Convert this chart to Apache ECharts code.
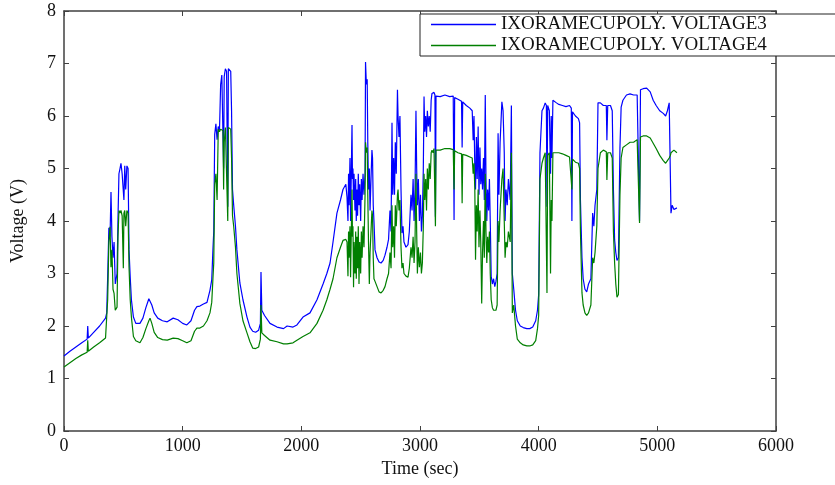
<!DOCTYPE html>
<html>
<head>
<meta charset="utf-8">
<script src="https://cdn.jsdelivr.net/npm/echarts@6/dist/echarts.min.js"></script>
<style>
    html, body { margin: 0; padding: 0; background: #fff; }
    #chart { width: 835px; height: 485px; }
</style>
</head>
<body>
<div id="chart"></div>
<script>
// time (sec)
const times = [
    0, 50, 100, 150, 195, 200, 205, 250, 300, 350,
    360, 368, 378, 388, 396, 404, 413, 422, 432, 447, 455, 463, 472, 480, 490, 500, 505, 512, 520, 530, 540, 548, 558, 568, 585, 605, 620,
    640, 665, 690, 715, 725, 740, 760, 790, 830, 870, 920, 960, 1000, 1035, 1070, 1100, 1120, 1145, 1175, 1205, 1230, 1245, 1255,
    1262, 1270, 1280, 1290, 1300, 1310, 1320, 1330, 1340, 1345, 1350, 1360, 1370, 1380, 1385, 1395, 1405, 1412, 1420, 1430, 1445,
    1457, 1482, 1508, 1542, 1567, 1590, 1615, 1640, 1655, 1660, 1667, 1690, 1736, 1795, 1850, 1880, 1930, 1963, 2014, 2073, 2132, 2183, 2215, 2242, 2267, 2300, 2330, 2351, 2375,
    2385, 2393, 2398, 2402, 2410, 2415, 2419, 2427, 2431, 2435,
    2440, 2444, 2452, 2458, 2463, 2469, 2474, 2480, 2486, 2492,
    2500, 2506, 2512, 2520, 2528, 2537, 2541, 2548, 2555, 2560,
    2566, 2573, 2579, 2587, 2595, 2600, 2606, 2612, 2621, 2638,
    2655, 2672, 2690, 2705, 2722, 2735, 2747, 2756, 2764, 2770,
    2778, 2785, 2792, 2800, 2810, 2815, 2823, 2831, 2840, 2848,
    2857, 2865, 2882, 2899, 2910, 2924, 2933, 2942, 2950, 2958,
    2966, 2972, 2978, 2986, 2995, 3004, 3012, 3020, 3028, 3034,
    3040, 3048, 3055, 3062, 3070, 3078, 3086, 3094, 3101, 3110,
    3118, 3126, 3130, 3135, 3150,
    3170, 3210, 3250, 3280, 3287, 3292, 3320, 3350, 3355, 3360,
    3390, 3420, 3440, 3448, 3455, 3462, 3468, 3475, 3482, 3490,
    3497, 3505, 3512, 3520, 3527, 3535, 3542, 3550, 3556, 3563,
    3570, 3578, 3585, 3592, 3600, 3610, 3620, 3630, 3640, 3650,
    3658, 3665, 3675, 3690, 3700, 3710, 3717, 3725, 3735, 3745,
    3760, 3770, 3778, 3790, 3805, 3820, 3845, 3870, 3900, 3925,
    3950, 3975, 3990, 4000, 4011, 4028,
    4040, 4055, 4065, 4070, 4076, 4090, 4100, 4106, 4112, 4120,
    4135, 4150, 4170, 4200, 4230, 4260, 4275, 4280, 4285, 4310,
    4335, 4345, 4352, 4365, 4375, 4390, 4405, 4420, 4440, 4455,
    4465, 4475, 4490, 4500, 4520, 4545, 4570, 4575, 4582, 4605,
    4620, 4630, 4640, 4650, 4660, 4672, 4685, 4695, 4710, 4740,
    4770, 4800, 4830, 4850, 4858, 4880, 4910, 4940, 4965, 4990,
    5020, 5050, 5070, 5085, 5100, 5110, 5115, 5125, 5140, 5165
]

// IXORAMECUPOLY. VOLTAGE3
const volt3 = [
    1.43, 1.52, 1.6, 1.68, 1.75, 2.0, 1.77, 1.88, 2.0, 2.15,
    2.25, 2.93, 3.87, 3.7, 4.55, 3.7, 3.3, 3.6, 2.8, 3.0, 4.05, 4.9, 5.0, 5.1, 4.9, 4.9, 4.4, 5.05, 4.6, 5.05, 5.0, 3.45, 2.93, 2.5, 2.17, 2.05, 2.02,
    2.05, 2.15, 2.35, 2.52, 2.55, 2.4, 2.25, 2.15, 2.1, 2.08, 2.15, 2.12, 2.05, 2.02, 2.1, 2.3, 2.37, 2.38, 2.42, 2.45, 2.68, 2.88, 3.45,
    3.8, 5.65, 5.85, 5.55, 5.8, 5.7, 6.6, 6.78, 6.8, 5.0, 6.75, 6.9, 6.85, 4.27, 6.9, 6.92, 6.85, 6.1, 4.6, 4.3, 3.9,
    3.45, 2.82, 2.5, 2.17, 1.98, 1.9, 1.88, 1.92, 2.05, 3.03, 2.3, 2.2, 2.05, 1.98, 1.95, 2.0, 1.98, 2.02, 2.17, 2.25, 2.5, 2.8, 3.0, 3.2, 3.6, 4.15, 4.4, 4.6, 4.7,
    4.45, 4.0, 4.9, 4.3, 5.2, 4.0, 4.6, 5.83, 4.8, 5.0,
    4.4, 4.9, 4.2, 4.8, 4.0, 4.6, 4.1, 4.9, 4.3, 4.7,
    4.0, 4.8, 4.4, 4.9, 4.5, 4.9, 7.03, 6.6, 6.7, 5.5,
    4.6, 5.0, 4.2, 4.8, 5.35, 5.2, 4.3, 4.0, 3.45, 3.3,
    3.22, 3.2, 3.25, 3.35, 3.5, 3.65, 4.2, 3.8, 5.87, 4.5,
    5.2, 4.5, 5.5, 4.9, 6.5, 6.0, 5.6, 6.0, 4.6, 3.77,
    3.9, 3.6, 3.5, 3.55, 3.8, 4.5, 4.2, 4.8, 4.0, 4.6,
    6.1, 5.0, 4.3, 4.8, 4.0, 4.5, 3.8, 4.1, 5.0, 6.37,
    5.7, 6.0, 5.6, 6.1, 5.8, 6.0, 5.7, 6.3, 6.43, 6.4,
    6.45, 6.4, 4.08, 6.38, 6.35,
    6.37, 6.4, 6.37, 6.38, 4.02, 6.35, 6.32, 6.28, 5.4, 6.27,
    6.2, 6.15, 6.1, 5.54, 6.0, 5.0, 4.6, 5.6, 4.8, 5.8,
    4.5, 5.4, 4.7, 5.0, 4.6, 5.2, 4.4, 6.4, 4.8, 4.0,
    4.6, 4.2, 4.8, 4.0, 2.95, 2.8, 2.9, 2.75, 2.85, 3.0,
    5.67, 4.5, 5.5, 6.27, 6.1, 5.3, 4.0, 4.6, 4.3, 4.8,
    4.4, 6.2, 3.0, 2.7, 2.3, 2.1, 2.0, 1.97, 1.95, 1.95,
    1.98, 2.1, 2.3, 2.6, 5.3, 6.1,
    6.15, 6.25, 6.2, 4.27, 6.2, 6.1, 4.9, 6.0, 5.2, 6.3,
    6.28, 6.25, 6.22, 6.2, 6.18, 6.2, 6.15, 4.0, 6.08, 6.0,
    5.95, 5.87, 4.4, 3.3, 2.9, 2.7, 2.65, 2.8, 2.9, 4.15,
    3.9, 4.3, 4.6, 6.25, 6.25, 6.2, 6.2, 5.54, 6.2, 6.2,
    6.1, 4.6, 3.64, 3.4, 3.25, 3.3, 5.4, 6.17, 6.3, 6.4,
    6.42, 6.4, 6.4, 4.0, 6.5, 6.52, 6.53, 6.46, 6.3, 6.2,
    6.1, 6.05, 6.0, 6.1, 6.25, 6.22, 4.15, 4.3, 4.22, 4.25
]

// IXORAMECUPOLY. VOLTAGE4
const volt4 = [
    1.22, 1.3, 1.38, 1.45, 1.5, 1.73, 1.52, 1.6, 1.68, 1.77,
    1.8, 2.5, 3.6, 3.89, 3.12, 3.45, 2.7, 2.62, 2.3, 2.36, 3.7, 4.2, 4.15, 4.2, 4.1, 3.1, 4.15, 4.2, 3.9, 4.2, 4.15, 3.12, 2.5, 2.17, 1.8, 1.72, 1.7,
    1.68, 1.78, 1.95, 2.1, 2.15, 2.05, 1.88, 1.78, 1.74, 1.73, 1.77, 1.76, 1.72, 1.68, 1.72, 1.9, 1.96, 1.96, 2.0, 2.1, 2.25, 2.45, 2.9,
    3.2, 4.7, 4.9, 4.4, 5.75, 5.7, 5.75, 5.75, 5.72, 4.6, 5.5, 5.78, 5.78, 4.0, 5.78, 5.78, 5.75, 5.2, 4.1, 3.9, 3.5,
    3.0, 2.43, 2.1, 1.87, 1.7, 1.58, 1.57, 1.6, 1.75, 2.4, 1.87, 1.82, 1.73, 1.7, 1.66, 1.66, 1.68, 1.73, 1.8, 1.87, 2.05, 2.3, 2.5, 2.7, 2.9, 3.3, 3.5, 3.63, 3.65,
    3.6, 2.95, 3.8, 3.3, 3.9, 2.93, 3.5, 4.6, 3.7, 3.9,
    2.74, 3.6, 3.0, 3.8, 2.9, 3.7, 3.1, 3.9, 2.8, 3.6,
    3.0, 3.8, 3.3, 3.9, 3.5, 4.5, 5.5, 5.3, 5.4, 4.5,
    3.6, 2.8, 3.4, 3.8, 4.2, 4.1, 3.3, 2.9, 2.85, 2.75,
    2.65, 2.63, 2.68, 2.75, 2.9, 3.0, 3.4, 3.1, 4.3, 3.5,
    3.9, 3.3, 4.3, 3.9, 4.5, 4.6, 4.2, 4.4, 3.5, 3.1,
    3.2, 3.0, 2.95, 2.93, 3.1, 3.5, 3.3, 3.7, 3.2, 3.6,
    4.9, 3.8, 3.0, 3.5, 3.12, 3.4, 3.0, 3.2, 3.9, 4.9,
    4.4, 4.8, 4.2, 5.0, 4.6, 5.1, 4.8, 5.3, 5.35, 5.3,
    5.38, 5.35, 3.9, 5.35, 5.36,
    5.35, 5.38, 5.38, 5.36, 4.6, 5.34, 5.3, 5.28, 4.34, 5.27,
    5.25, 5.22, 5.2, 4.9, 5.1, 4.6, 3.26, 4.3, 3.8, 4.6,
    3.5, 4.2, 3.6, 2.43, 3.4, 4.0, 3.3, 4.9, 3.8, 3.2,
    3.7, 3.4, 3.8, 3.0, 2.5, 2.35, 2.3, 2.28, 2.3, 2.4,
    4.0, 3.6, 4.2, 4.8, 5.0, 4.0, 3.3, 3.6, 3.5, 3.8,
    3.6, 5.3, 2.25, 2.4, 2.0, 1.75, 1.68, 1.64, 1.62, 1.62,
    1.64, 1.72, 1.95, 2.2, 4.8, 5.1,
    5.2, 5.3, 5.28, 2.63, 5.25, 5.3, 3.0, 4.4, 4.0, 5.3,
    5.32, 5.3, 5.3, 5.28, 5.25, 5.22, 5.2, 4.6, 5.18, 5.12,
    5.1, 5.0, 3.8, 2.63, 2.4, 2.25, 2.2, 2.25, 2.4, 3.3,
    3.2, 3.4, 3.9, 5.0, 5.3, 5.35, 5.32, 4.78, 5.3, 5.3,
    5.2, 3.8, 3.2, 2.8, 2.55, 2.6, 4.5, 5.2, 5.4, 5.45,
    5.5, 5.5, 5.55, 3.96, 5.6, 5.62, 5.62, 5.58, 5.48, 5.38,
    5.25, 5.15, 5.1, 5.15, 5.2, 5.25, 5.3, 5.3, 5.35, 5.3
]

const seriesNames = ['IXORAMECUPOLY. VOLTAGE3', 'IXORAMECUPOLY. VOLTAGE4']

const serif = '"Liberation Serif", "DejaVu Serif", serif'
const frameColor = '#404040'

// 坐标轴公共样式（四边框线，刻度朝内）
const frameAxis = {
    axisLine: {show: true, onZero: false, lineStyle: {color: frameColor, width: 1.5}},
    axisTick: {show: true, inside: true, length: 5, lineStyle: {color: frameColor, width: 1}},
    splitLine: {show: false},
}

let option = {
    animation: false,
    backgroundColor: '#fff',
    grid: {
        left: 64,
        right: 59,
        top: 11,
        bottom: 54,
        containLabel: false
    },
    legend: {
        orient: 'vertical',
        left: 420,
        top: 14,
        icon: 'rect',
        itemWidth: 65,
        itemHeight: 1.3,
        itemGap: 2,
        padding: [1, 200, 1, 11],
        backgroundColor: '#fff',
        borderColor: '#222',
        borderWidth: 1,
        textStyle: {fontFamily: serif, fontSize: 19, color: '#111'},
        data: seriesNames
    },
    xAxis: [
        {
            type: 'value',
            min: 0,
            max: 6000,
            interval: 1000,
            position: 'bottom',
            name: 'Time (sec)',
            nameLocation: 'middle',
            nameGap: 27,
            nameTextStyle: {fontFamily: serif, fontSize: 18, color: '#111'},
            axisLabel: {fontFamily: serif, fontSize: 18, color: '#111', margin: 6, formatter: v => String(v)},
            ...frameAxis
        },
        {
            type: 'value',
            min: 0,
            max: 6000,
            interval: 1000,
            position: 'top',
            axisLabel: {show: false},
            ...frameAxis
        }
    ],
    yAxis: [
        {
            type: 'value',
            min: 0,
            max: 8,
            interval: 1,
            position: 'left',
            name: 'Voltage (V)',
            nameLocation: 'middle',
            nameGap: 37,
            nameTextStyle: {fontFamily: serif, fontSize: 18, color: '#111'},
            axisLabel: {fontFamily: serif, fontSize: 18, color: '#111', margin: 8},
            ...frameAxis
        },
        {
            type: 'value',
            min: 0,
            max: 8,
            interval: 1,
            position: 'right',
            axisLabel: {show: false},
            ...frameAxis
        }
    ],
    series: [
        {
            name: seriesNames[0],
            type: 'line',
            symbol: 'none',
            color: '#0000ff',
            lineStyle: {width: 1.2},
            data: times.map((t, i) => [t, volt3[i]])
        },
        {
            name: seriesNames[1],
            type: 'line',
            symbol: 'none',
            color: '#007f00',
            lineStyle: {width: 1.2},
            data: times.map((t, i) => [t, volt4[i]])
        }
    ]
}

const myChart = echarts.init(document.getElementById('chart'))
myChart.setOption(option)
</script>
</body>
</html>
